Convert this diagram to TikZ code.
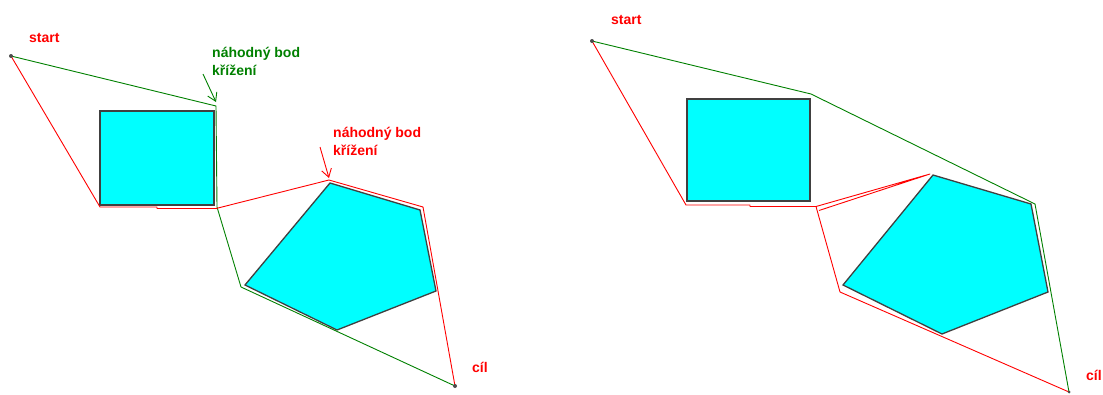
\documentclass[tikz,border=0pt]{standalone}
\usepackage{fontspec}
\setmainfont{Liberation Sans}
\usetikzlibrary{arrows.meta}
\definecolor{obst}{RGB}{0,255,255}
\definecolor{pathred}{RGB}{255,0,0}
\definecolor{pathgreen}{RGB}{0,128,0}
\tikzset{
  obstacle/.style={fill=obst, draw=black!75, line width=1.3pt, line join=miter},
  redpath/.style={draw=pathred, line width=0.9pt, line join=round},
  greenpath/.style={draw=pathgreen, line width=0.9pt, line join=round},
  lbl/.style={font=\bfseries\fontsize{14}{18}\selectfont, inner sep=0pt, anchor=base west, align=left},
  endpt/.style={circle, fill=black!70, inner sep=0pt, minimum size=4pt},
  pointer/.style={-{Straight Barb[length=8pt,width=10pt]}, line width=0.9pt},
}
\begin{document}
\begin{tikzpicture}[x=1pt, y=-1pt]
\useasboundingbox (0,0) rectangle (1103,394);

% ---------- first individual ----------
\coordinate (s1) at (11,56);
\coordinate (e1) at (455,386);
% obstacles
\draw[obstacle] (100,111) rectangle (214,205);
\draw[obstacle] (330,183) -- (420,210) -- (436,291) -- (337,330) -- (245,285) -- cycle;
% green route
\coordinate (g1) at (216,106);
\coordinate (g2) at (217,207);
\coordinate (g3) at (241,287);
\draw[greenpath] (s1) -- (g1) -- (g2) -- (g3) -- (e1);
% red route
\coordinate (r1) at (100,207);
\coordinate (r1a) at (157,207);
\coordinate (r1b) at (157,208.5);
\coordinate (r2) at (216,208.5);
\coordinate (r3) at (329,180);
\coordinate (r4) at (423,207);
\draw[redpath] (s1) -- (r1) -- (r1a) -- (r1b) -- (r2) -- (r3) -- (r4) -- (e1);
% end points
\node[endpt] (start1) at (s1) {};
\node[endpt] (goal1) at (e1) {};
% labels (multi-line labels are placed by the baseline of their last line)
\node[lbl, text=pathred] (tstart1) at (29,42) {start};
\node[lbl, text=pathred] (tgoal1) at (472,372) {cíl};
\node[lbl, text=pathgreen] (tcross1) at (212,75) {náhodný bod\\křížení};
\node[lbl, text=pathred] (tcross2) at (333,155) {náhodný bod\\křížení};
% crossing-point pointers
\coordinate (pg0) at (203,74);
\coordinate (pg1) at (216,102);
\draw[pointer, pathgreen] (pg0) -- (pg1);
\coordinate (pr0) at (320,147);
\coordinate (pr1) at (329,178);
\draw[pointer, pathred] (pr0) -- (pr1);

% ---------- offspring ----------
\coordinate (s2) at (592,41);
\coordinate (e2) at (1069,392);
% obstacles
\draw[obstacle] (687,99) rectangle (810,201);
\draw[obstacle] (933,175) -- (1031,204) -- (1048,292) -- (942,334) -- (843,285) -- cycle;
% green route
\coordinate (g4) at (811,94);
\coordinate (g5) at (1035,204);
\draw[greenpath] (s2) -- (g4) -- (g5) -- (e2);
% red route
\coordinate (r5) at (686,205);
\coordinate (r5a) at (750,205);
\coordinate (r5b) at (750,206.5);
\coordinate (r6) at (816,206.5);
\coordinate (r7) at (930,174);
\coordinate (r8) at (819,210.5);
\coordinate (r9) at (840,292);
\draw[redpath] (s2) -- (r5) -- (r5a) -- (r5b) -- (r6) -- (r7) -- (r8);
\draw[redpath] (r6) -- (r9) -- (e2);
% end points
\node[endpt] (start2) at (s2) {};
\node[endpt, minimum size=3pt] (goal2) at (e2) {};
% labels
\node[lbl, text=pathred] (tstart2) at (611,24) {start};
\node[lbl, text=pathred] (tgoal2) at (1086,380) {cíl};
\end{tikzpicture}
\end{document}
